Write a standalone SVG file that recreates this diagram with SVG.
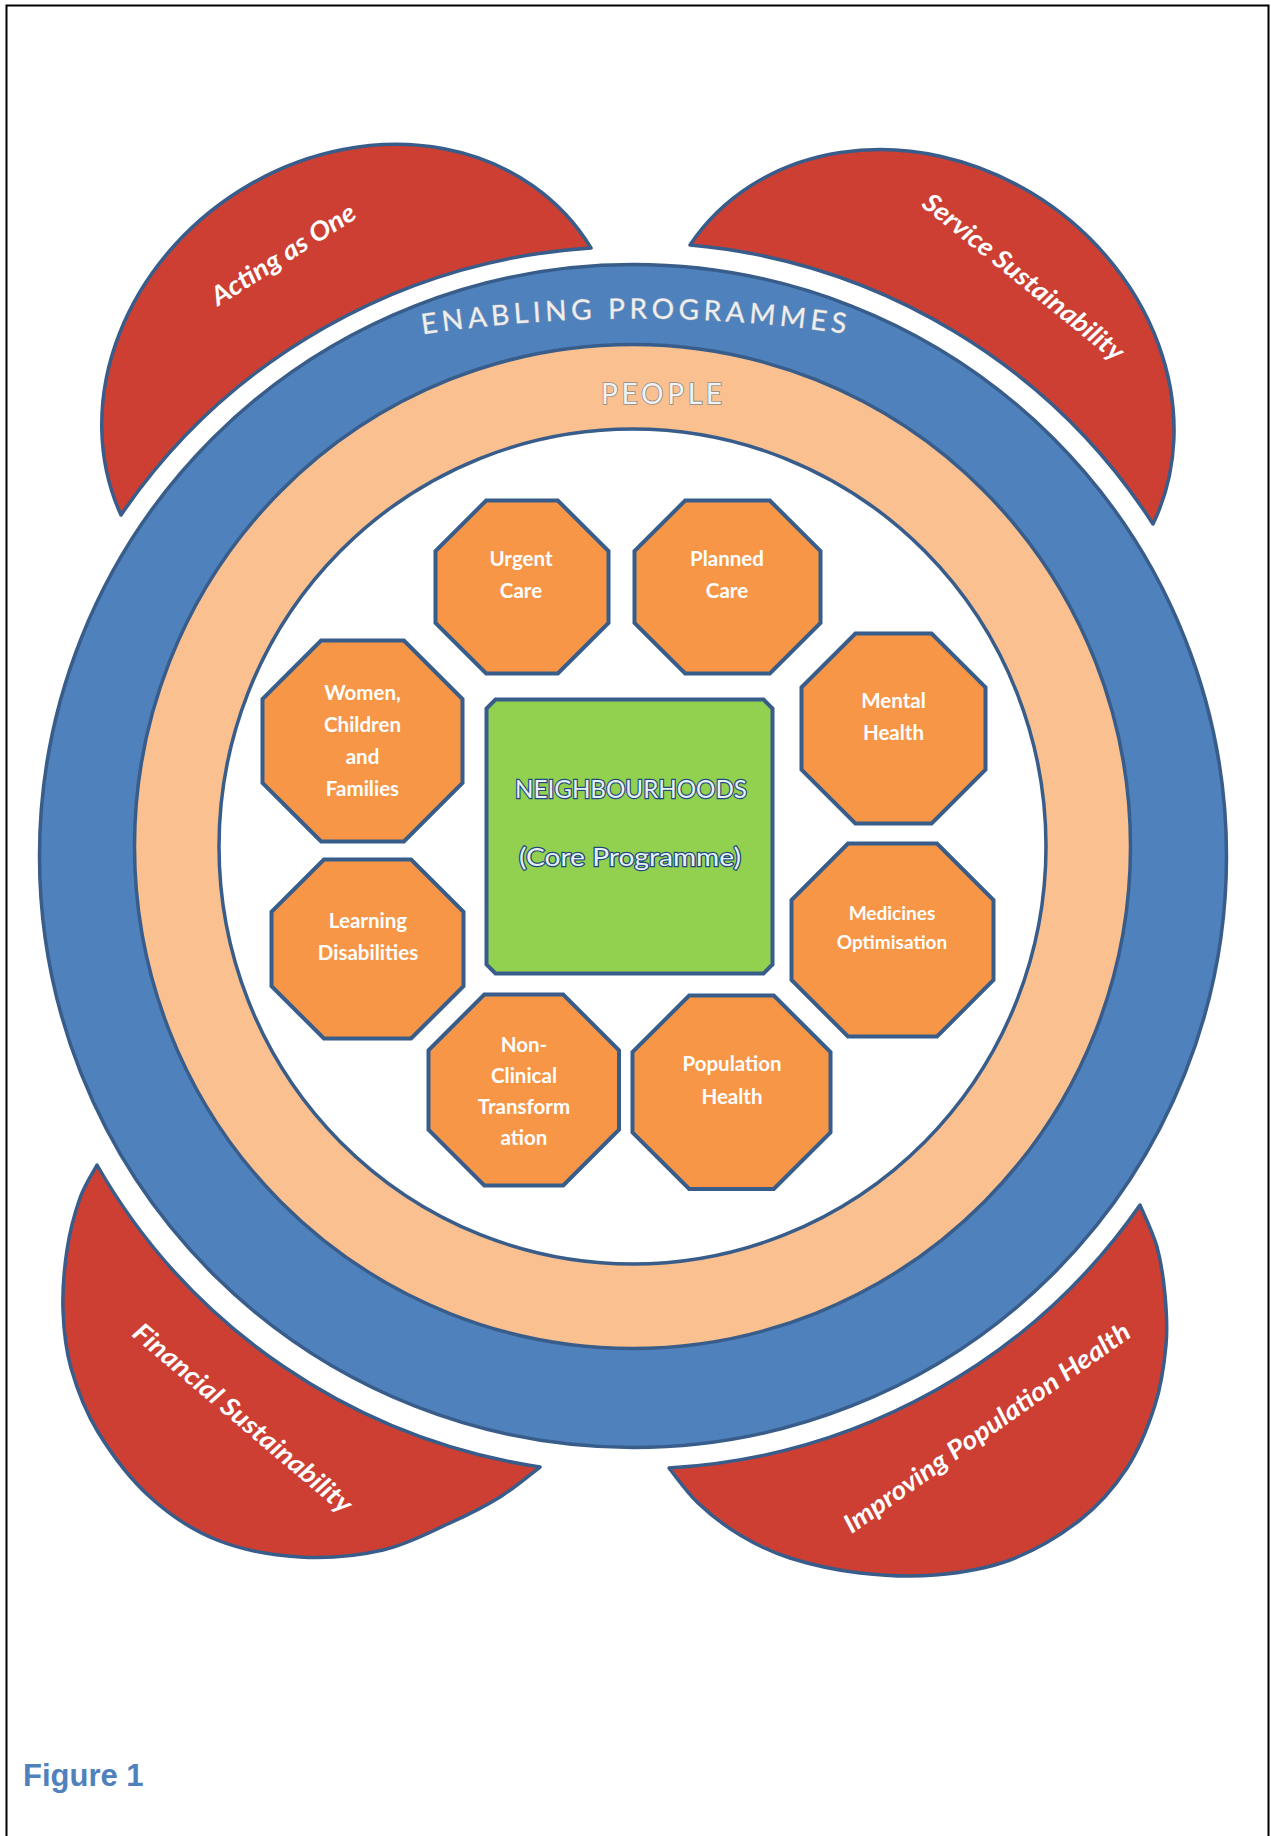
<svg xmlns="http://www.w3.org/2000/svg" xmlns:xlink="http://www.w3.org/1999/xlink" width="1271" height="1836" viewBox="0 0 1271 1836">
  <style>
    .ol { stroke: #385D8A; stroke-width: 3.5; }
    .red { fill: #CD3E33; stroke: #385D8A; stroke-width: 3.5; stroke-linejoin: round; }
    .oct { fill: #F79646; stroke: #385D8A; stroke-width: 4; stroke-linejoin: miter; }
    .lbl { font-family: Lato, "Open Sans", "DejaVu Sans", sans-serif; font-weight: bold; font-size: 20.5px; fill: #FFFFFF; text-anchor: middle; }
    .rlbl { font-family: Lato, "Open Sans", "DejaVu Sans", sans-serif; font-weight: bold; font-style: italic; font-size: 26px; fill: #FFFFFF; text-anchor: middle; }
    .ring { font-family: Lato, "Open Sans", "DejaVu Sans", sans-serif; font-size: 28px; text-anchor: middle; paint-order: stroke; }
    .core { font-family: Lato, "Open Sans", "DejaVu Sans", sans-serif; font-size: 25px; fill: #E8F1FA; stroke: #1F497D; stroke-width: 2.4; paint-order: stroke; text-anchor: middle; }
  </style>
  <defs>
    <path id="enablingArc" d="M336,349.9 A1450,1450 0 0 1 936,349.9"/>
  </defs>

  <g id="frame">
    <path d="M6.5,1836 V5.5 H1268.5 V1836" fill="none" stroke="#000000" stroke-width="2"/>
  </g>

  <g id="acting-as-one">
    <path class="red" d="M121,515 A271,235 -35 0 1 591,248 A615,610 0 0 0 121,515 Z"/>
    <text class="rlbl" transform="translate(288,262) rotate(-32.5)" textLength="166" lengthAdjust="spacingAndGlyphs">Acting as One</text>
  </g>

  <g id="service-sustainability">
    <path class="red" d="M690,245 A271,235 35 0 1 1153,524 A615,610 0 0 0 690,245 Z"/>
    <text class="rlbl" transform="translate(1018,284) rotate(38.8)" textLength="250" lengthAdjust="spacingAndGlyphs">Service Sustainability</text>
  </g>

  <g id="financial-sustainability">
    <path class="red" d="M97,1165 C94.2,1170.5 85,1183.8 80,1198 C75,1212.2 69.8,1231.3 67,1250 C64.2,1268.7 62.3,1290.3 63,1310 C63.7,1329.7 65.2,1347.7 71,1368 C76.8,1388.3 84.8,1410.5 98,1432 C111.2,1453.5 130.2,1479 150,1497 C169.8,1515 192,1530 217,1540 C242,1550 272.3,1555.3 300,1557 C327.7,1558.7 358,1555.7 383,1550 C408,1544.3 430.5,1531.8 450,1523 C469.5,1514.2 485,1506.3 500,1497 C515,1487.7 533.3,1472 540,1467 A615,610 0 0 1 97,1165 Z"/>
    <text class="rlbl" transform="translate(237,1425) rotate(40.2)" textLength="278" lengthAdjust="spacingAndGlyphs">Financial Sustainability</text>
  </g>

  <g id="improving-population-health">
    <path class="red" d="M669,1468 C673.8,1473.8 686.2,1491.8 698,1503 C709.8,1514.2 724.7,1525.8 740,1535 C755.3,1544.2 770,1551.7 790,1558 C810,1564.3 835.8,1570.2 860,1573 C884.2,1575.8 910,1577.2 935,1575 C960,1572.8 985.8,1569.2 1010,1560 C1034.2,1550.8 1060.5,1535.3 1080,1520 C1099.5,1504.7 1114.5,1487.2 1127,1468 C1139.5,1448.8 1148.5,1425.5 1155,1405 C1161.5,1384.5 1164.3,1363.3 1166,1345 C1167.7,1326.7 1166.5,1311.3 1165,1295 C1163.5,1278.7 1161.2,1262 1157,1247 C1152.8,1232 1142.8,1212 1140,1205 A615,610 0 0 1 669,1468 Z"/>
    <text class="rlbl" transform="translate(992,1435) rotate(-35.2)" textLength="344" lengthAdjust="spacingAndGlyphs">Improving Population Health</text>
  </g>

  <g id="enabling-programmes">
    <ellipse class="ol" cx="633" cy="856" rx="593.5" ry="591.5" fill="#4F81BD"/>
    <text class="ring" fill="#EEEEEE" stroke="#9AA6B8" stroke-width="1" letter-spacing="4.5"><textPath xlink:href="#enablingArc" href="#enablingArc" startOffset="50%">ENABLING PROGRAMMES</textPath></text>
  </g>

  <g id="people">
    <ellipse class="ol" cx="632.5" cy="846.5" rx="498" ry="502" fill="#FAC090"/>
    <text class="ring" x="661.5" y="404" fill="#F2F2F2" stroke="#8A8A8A" stroke-width="1.6" textLength="121" lengthAdjust="spacing">PEOPLE</text>
  </g>

  <g id="inner-area">
    <ellipse class="ol" cx="632.5" cy="846.5" rx="413.5" ry="417.5" fill="#FFFFFF"/>
  </g>

  <g id="connectors"/>

  <g id="neighbourhoods">
    <polygon class="oct" points="495.5,699.5 763.5,699.5 772.5,708.5 772.5,964.5 763.5,973.5 495.5,973.5 486.5,964.5 486.5,708.5" style="fill:#92D050"/>
    <text class="core" x="631" y="798" textLength="232" lengthAdjust="spacingAndGlyphs">NEIGHBOURHOODS</text>
    <text class="core" x="630" y="866" textLength="222" lengthAdjust="spacingAndGlyphs">(Core Programme)</text>
  </g>

  <g id="urgent-care">
    <polygon class="oct" points="486.2,500.5 557.8,500.5 608.5,551.2 608.5,622.8 557.8,673.5 486.2,673.5 435.5,622.8 435.5,551.2"/>
    <text class="lbl" x="521" y="566">Urgent</text>
    <text class="lbl" x="521" y="598">Care</text>
  </g>

  <g id="planned-care">
    <polygon class="oct" points="685.2,500.5 769.8,500.5 820.5,551.2 820.5,622.8 769.8,673.5 685.2,673.5 634.5,622.8 634.5,551.2"/>
    <text class="lbl" x="727" y="566">Planned</text>
    <text class="lbl" x="727" y="598">Care</text>
  </g>

  <g id="women-children-families">
    <polygon class="oct" points="321.1,640.5 403.9,640.5 462.5,699.1 462.5,782.9 403.9,841.5 321.1,841.5 262.5,782.9 262.5,699.1"/>
    <text class="lbl" x="362.5" y="700">Women,</text>
    <text class="lbl" x="362.5" y="732">Children</text>
    <text class="lbl" x="362.5" y="764">and</text>
    <text class="lbl" x="362.5" y="796">Families</text>
  </g>

  <g id="mental-health">
    <polygon class="oct" points="855.4,633.5 931.6,633.5 985.5,687.4 985.5,769.6 931.6,823.5 855.4,823.5 801.5,769.6 801.5,687.4"/>
    <text class="lbl" x="893.5" y="708">Mental</text>
    <text class="lbl" x="893.5" y="740">Health</text>
  </g>

  <g id="learning-disabilities">
    <polygon class="oct" points="323.9,859.5 411.1,859.5 463.5,911.9 463.5,986.1 411.1,1038.5 323.9,1038.5 271.5,986.1 271.5,911.9"/>
    <text class="lbl" x="368" y="928">Learning</text>
    <text class="lbl" x="368" y="960">Disabilities</text>
  </g>

  <g id="medicines-optimisation">
    <polygon class="oct" points="848,843.5 937,843.5 993.5,900 993.5,980 937,1036.5 848,1036.5 791.5,980 791.5,900"/>
    <text class="lbl" x="892" y="920" style="font-size:19px">Medicines</text>
    <text class="lbl" x="892" y="949" style="font-size:19px">Optimisation</text>
  </g>

  <g id="non-clinical-transformation">
    <polygon class="oct" points="484.3,994.5 563.2,994.5 619,1050.3 619,1129.7 563.2,1185.5 484.3,1185.5 428.5,1129.7 428.5,1050.3"/>
    <text class="lbl" x="524" y="1052">Non-</text>
    <text class="lbl" x="524" y="1083">Clinical</text>
    <text class="lbl" x="524" y="1114">Transform</text>
    <text class="lbl" x="524" y="1145">ation</text>
  </g>

  <g id="population-health">
    <polygon class="oct" points="689.2,995.5 773.8,995.5 830.5,1052.2 830.5,1132.3 773.8,1189 689.2,1189 632.5,1132.3 632.5,1052.2"/>
    <text class="lbl" x="732" y="1071">Population</text>
    <text class="lbl" x="732" y="1104">Health</text>
  </g>

  <g id="caption">
    <text x="23" y="1786" font-family="'Liberation Sans', Arial, sans-serif" font-weight="bold" font-size="31" fill="#4F81BD">Figure 1</text>
  </g>
</svg>
